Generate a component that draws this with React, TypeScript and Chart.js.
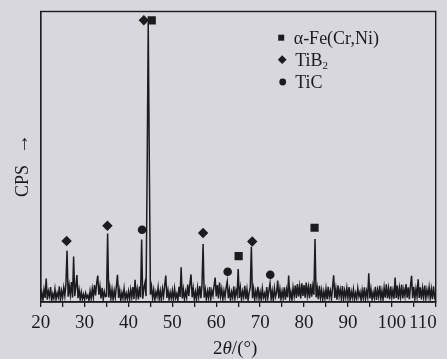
import React, { useEffect, useRef } from 'react';
import { Chart, registerables } from 'chart.js';

Chart.register(...registerables);

const INK = '#1c1c1e';
const BG = '#d8d7de';
const SERIF = "'Liberation Serif', 'Times New Roman', serif";

// 2θ grid of the scan: 20° .. 110°, 0.25° per point
const thetaStart = 20;
const thetaStep = 0.25;

// Intensity (CPS, relative), one row per 5°
const intensity: number[] = [
  2.1, 4.3, 1.6, 5.2, 2.4, 9.0, 1.8, 4.6, 2.9, 6.1, 1.5, 3.8, 2.2, 5.4, 1.9, 4.1, 2.7, 6.3, 1.7, 4.8,
  2.6, 5.9, 3.1, 7.2, 18.5, 2.8, 6.6, 3.4, 7.8, 2.5, 16.5, 3.0, 6.2, 10.2, 2.3, 5.1, 1.8, 4.4, 2.0, 3.6,
  1.7, 4.0, 2.4, 3.3, 1.5, 4.7, 2.1, 5.5, 2.6, 6.8, 3.2, 7.4, 10.0, 3.5, 6.4, 2.2, 5.8, 1.9, 4.5, 2.8,
  3.0, 24.3, 2.5, 6.0, 2.2, 5.3, 1.8, 4.9, 2.6, 6.5, 10.3, 2.4, 5.0, 1.6, 4.2, 2.3, 5.6, 1.9, 3.9, 2.1,
  4.6, 1.8, 5.2, 2.5, 6.1, 2.0, 8.6, 2.7, 5.4, 1.9, 6.3, 2.6, 22.3, 2.1, 5.7, 7.5, 3.0, 45.0, 96.0, 48.0,
  3.5, 6.2, 2.3, 5.1, 1.7, 4.4, 2.8, 6.0, 2.1, 4.8, 1.6, 5.5, 3.0, 6.7, 10.0, 2.4, 5.0, 1.9, 4.3, 2.2,
  4.9, 1.8, 5.6, 2.4, 3.8, 1.5, 6.2, 2.7, 12.8, 2.2, 5.3, 1.9, 4.6, 2.5, 6.9, 3.1, 7.3, 10.4, 2.6, 5.7,
  2.0, 4.5, 1.7, 5.9, 2.8, 6.4, 2.3, 7.0, 20.8, 2.5, 5.2, 1.8, 4.7, 2.4, 6.1, 2.0, 4.9, 3.2, 6.6, 9.3,
  2.9, 6.8, 2.2, 7.6, 3.0, 5.4, 1.9, 4.8, 2.6, 5.9, 8.0, 2.3, 5.1, 1.7, 4.4, 2.5, 6.3, 2.1, 5.0, 3.3,
  12.2, 2.4, 5.8, 1.8, 4.6, 2.7, 6.5, 2.0, 5.3, 1.6, 4.2, 6.0, 19.8, 2.3, 5.5, 1.9, 4.7, 2.6, 6.2, 2.1,
  4.4, 1.7, 5.6, 2.5, 3.9, 1.8, 6.1, 2.3, 5.0, 7.4, 2.0, 4.8, 1.6, 5.7, 2.8, 4.3, 8.3, 2.2, 5.4, 1.9,
  4.7, 2.4, 6.0, 1.8, 5.2, 2.6, 10.0, 2.1, 4.5, 1.7, 5.9, 3.0, 6.6, 2.4, 7.1, 2.9, 6.3, 2.2, 7.4, 3.1,
  6.8, 2.5, 7.6, 3.2, 6.1, 2.3, 7.2, 2.8, 6.4, 3.5, 22.5, 2.6, 5.8, 2.0, 6.5, 2.4, 5.1, 1.8, 4.6, 2.2,
  5.5, 1.9, 6.2, 2.7, 4.8, 2.1, 6.0, 10.1, 2.4, 5.6, 1.8, 6.7, 3.0, 5.2, 2.2, 6.4, 1.9, 4.9, 2.6, 5.8,
  2.3, 6.1, 1.7, 4.6, 2.5, 5.3, 1.8, 4.1, 2.2, 5.7, 2.9, 4.4, 1.6, 5.0, 2.3, 6.0, 2.0, 4.7, 2.6, 10.8,
  2.2, 5.4, 1.9, 4.3, 2.4, 6.2, 1.7, 5.1, 2.8, 6.5, 2.1, 4.8, 1.8, 5.9, 2.5, 7.0, 2.3, 5.6, 2.0, 6.3,
  2.6, 5.0, 2.1, 9.3, 2.4, 6.6, 1.9, 5.8, 2.7, 6.9, 2.2, 5.3, 3.0, 7.1, 2.5, 6.0, 2.0, 6.4, 9.9, 2.3,
  6.2, 2.1, 5.5, 2.8, 8.7, 2.4, 6.0, 1.9, 5.7, 2.6, 6.6, 2.2, 5.2, 3.0, 6.1, 2.3, 5.4, 2.0, 6.3, 2.7,
  4.0,
];

// Phase markers
const feTheta = [45.3, 65.1, 82.4];
const feLevel = [97, 16.6, 26.3];
const tib2Theta = [43.5, 25.9, 35.2, 57.0, 68.2];
const tib2Level = [97, 21.8, 27.0, 24.5, 21.6];
const ticTheta = [43.1, 62.6, 72.3];
const ticLevel = [25.6, 11.3, 10.3];

const xMin = 20;
const xMax = 110;
const xStep = 5;
const yMin = 1.0;
const yMax = 100;
const labelledTicks = [20, 30, 40, 50, 60, 70, 80, 90, 100, 110];
const legendNames = ['α-Fe(Cr,Ni)', 'TiB', 'TiC'];
const legendSub = ['', '2', ''];
const yTitle = 'CPS';
const yArrow = '→';
const xTitleParts = ['2', 'θ', '/(°)'];

const TICK_FONT = 19;

const decor = {
  id: 'decor',
  afterDraw(chart: any) {
    const { ctx, chartArea: a } = chart;
    ctx.save();
    // frame
    ctx.strokeStyle = INK;
    ctx.lineWidth = 1.4;
    ctx.strokeRect(a.left, a.top, a.right - a.left, a.bottom - a.top);

    ctx.fillStyle = INK;
    // last tick label right-aligned at the axis end
    ctx.font = `${TICK_FONT}px ${SERIF}`;
    ctx.textAlign = 'right';
    ctx.textBaseline = 'middle';
    ctx.fillText(String(labelledTicks[labelledTicks.length - 1]), a.right + 1, a.bottom + 10 + TICK_FONT * 0.6);

    // legend
    const mx = a.left + 240.5;
    const tx = a.left + 253;
    const rows = [a.top + 32.5, a.top + 54.5, a.top + 76.8];
    ctx.fillRect(mx - 3, rows[0] - 6.3 - 3, 6, 6);
    const dy = rows[1] - 6.3;
    ctx.beginPath();
    ctx.moveTo(mx + 1, dy - 4.4);
    ctx.lineTo(mx + 5.4, dy);
    ctx.lineTo(mx + 1, dy + 4.4);
    ctx.lineTo(mx - 3.4, dy);
    ctx.closePath();
    ctx.fill();
    ctx.beginPath();
    ctx.arc(mx + 1.5, rows[2] - 6.3, 3.4, 0, Math.PI * 2);
    ctx.fill();

    ctx.textAlign = 'left';
    ctx.textBaseline = 'alphabetic';
    legendNames.forEach((name, i) => {
      ctx.font = `18px ${SERIF}`;
      const x0 = i === 0 ? tx : tx + 1.5;
      ctx.fillText(name, x0, rows[i]);
      if (legendSub[i]) {
        const w = ctx.measureText(name).width;
        ctx.font = `11px ${SERIF}`;
        ctx.fillText(legendSub[i], x0 + w, rows[i] + 3);
      }
    });

    // x title: 2θ/(°) with italic θ
    const fonts = [`19px ${SERIF}`, `italic 19px ${SERIF}`, `19px ${SERIF}`];
    let total = 0;
    const widths = xTitleParts.map((p, i) => {
      ctx.font = fonts[i];
      const w = ctx.measureText(p).width;
      total += w;
      return w;
    });
    let x = (a.left + a.right) / 2 - 3 - total / 2;
    const base = a.bottom + 52;
    xTitleParts.forEach((p, i) => {
      ctx.font = fonts[i];
      ctx.fillText(p, x, base);
      x += widths[i];
    });

    // y title, rotated
    ctx.translate(27.5, 197);
    ctx.rotate(-Math.PI / 2);
    ctx.font = `18px ${SERIF}`;
    ctx.fillText(yTitle, 0, 0);
    ctx.font = `20px ${SERIF}`;
    ctx.fillText(yArrow, 43, 0);
    ctx.restore();
  },
};

export default function App() {
  const ref = useRef<HTMLCanvasElement | null>(null);

  useEffect(() => {
    if (!ref.current) return;
    const trace = intensity.map((v, i) => ({ x: thetaStart + i * thetaStep, y: v }));
    const pts = (xs: number[], ys: number[]) => xs.map((v, i) => ({ x: v, y: ys[i] }));
    const chart = new Chart(ref.current, {
      type: 'line',
      data: {
        datasets: [
          {
            data: trace,
            borderColor: INK,
            borderWidth: 1.5,
            pointRadius: 0,
            tension: 0,
            fill: false,
            order: 4,
          },
          {
            data: pts(feTheta, feLevel),
            showLine: false,
            pointStyle: 'rect',
            pointRadius: 5.8,
            backgroundColor: INK,
            borderWidth: 0,
            order: 1,
          },
          {
            data: pts(tib2Theta, tib2Level),
            showLine: false,
            pointStyle: 'rectRot',
            pointRadius: 5.2,
            backgroundColor: INK,
            borderWidth: 0,
            order: 2,
          },
          {
            data: pts(ticTheta, ticLevel),
            showLine: false,
            pointStyle: 'circle',
            pointRadius: 4.3,
            backgroundColor: INK,
            borderWidth: 0,
            order: 3,
          },
        ],
      } as any,
      options: {
        responsive: false,
        devicePixelRatio: 1,
        animation: false,
        events: [],
        layout: { padding: { top: 11.5, right: 11.3, left: 0, bottom: 0 } },
        plugins: { legend: { display: false }, tooltip: { enabled: false }, title: { display: false } },
        scales: {
          x: {
            type: 'linear',
            min: xMin,
            max: xMax,
            ticks: {
              stepSize: xStep,
              autoSkip: false,
              maxRotation: 0,
              padding: 5,
              color: INK,
              font: { family: SERIF, size: TICK_FONT },
              callback: (v: any) =>
                labelledTicks.includes(Number(v)) && Number(v) !== labelledTicks[labelledTicks.length - 1]
                  ? String(v)
                  : '',
            },
            grid: { display: true, drawOnChartArea: false, drawTicks: true, tickLength: 5, color: INK, lineWidth: 1.3 },
            border: { display: true, color: INK, width: 1.4 },
            afterFit: (s: any) => {
              s.height = 57;
              s.paddingLeft = 0;
              s.paddingRight = 0;
            },
          },
          y: {
            type: 'linear',
            min: yMin,
            max: yMax,
            ticks: { display: false },
            grid: { display: false, drawTicks: false },
            border: { display: true, color: INK, width: 1.4 },
            afterFit: (s: any) => {
              s.width = 40.7;
              s.paddingTop = 0;
              s.paddingBottom = 0;
            },
          },
        },
      } as any,
      plugins: [decor],
    });
    return () => chart.destroy();
  }, []);

  return (
    <div style={{ position: 'fixed', left: 0, top: 0, width: 447, height: 359, background: BG }}>
      <canvas ref={ref} width={447} height={359} style={{ display: 'block' }} />
    </div>
  );
}
